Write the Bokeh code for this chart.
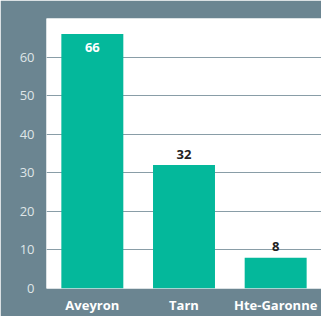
from bokeh.plotting import figure
from bokeh.models import ColumnDataSource, Range1d, FixedTicker
from bokeh.core.properties import value
from bokeh.embed import file_html
from bokeh.resources import INLINE

categories = ["Aveyron", "Tarn", "Hte-Garonne"]
values = [66, 32, 8]
y_ticks = [0, 10, 20, 30, 40, 50, 60]

PANEL = "#6b8591"
BAR = "#04b89b"
Y_MAX = 70

inside = [v > Y_MAX - 8 for v in values]
src = ColumnDataSource(dict(
    cat=categories,
    val=values,
    label=[str(v) for v in values],
    lcolor=["#ffffff" if i else "#222222" for i in inside],
    loff=[14 if i else -11 for i in inside],
))

p = figure(x_range=categories, y_range=Range1d(0, Y_MAX),
           width=321, height=316, output_backend="svg", toolbar_location=None,
           min_border_left=46, min_border_right=0, min_border_top=18, min_border_bottom=16,
           border_fill_color=PANEL, background_fill_color="white",
           outline_line_color=None)

p.vbar(x="cat", top="val", width=0.676, source=src, color=BAR, line_color=None)
p.text(x="cat", y="val", text="label", y_offset="loff", source=src,
       text_align="center", text_baseline="middle", text_color="lcolor",
       text_font=value("Open Sans"), text_font_style="bold", text_font_size="13px")

p.xgrid.grid_line_color = None
p.ygrid.grid_line_color = PANEL
p.ygrid.grid_line_width = 1
p.ygrid.grid_line_alpha = 0.8
p.yaxis.ticker = FixedTicker(ticks=y_ticks)

for ax in (p.xaxis[0], p.yaxis[0]):
    ax.axis_line_color = None
    ax.major_tick_line_color = None
    ax.minor_tick_line_color = None

p.yaxis.major_label_text_color = "#dfe5e8"
p.yaxis.major_label_text_font = "Open Sans"
p.yaxis.major_label_text_font_size = "13px"
p.yaxis.major_label_standoff = 6

p.xaxis.major_label_text_color = "#ffffff"
p.xaxis.major_label_text_font = "Open Sans"
p.xaxis.major_label_text_font_style = "bold"
p.xaxis.major_label_text_font_size = "13px"
p.xaxis.major_label_standoff = 1

open("out.html", "w").write(file_html(p, INLINE))
